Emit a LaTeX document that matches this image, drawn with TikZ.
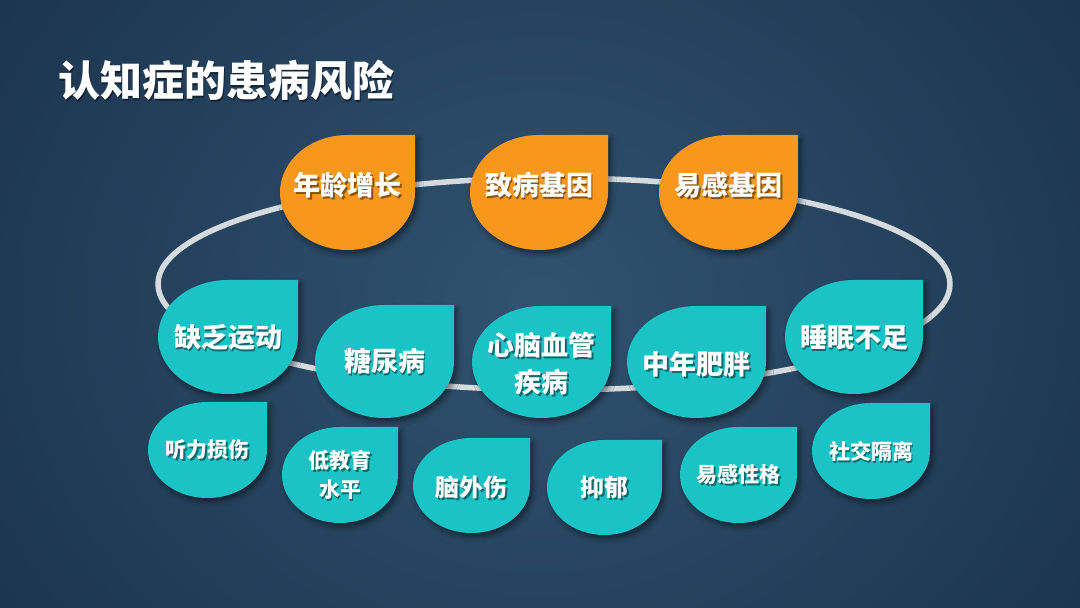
\documentclass[tikz,border=0pt]{standalone}
\usepackage{fontspec}
\newfontfamily\cjk{Noto Sans CJK SC}
\usetikzlibrary{shadows.blur}
\definecolor{bgdark}{HTML}{1C3550}
\definecolor{bglight}{HTML}{30536F}
\definecolor{ringc}{HTML}{D5DADF}
\definecolor{orangeleaf}{HTML}{F7981D}
\definecolor{tealleaf}{HTML}{1AC3C5}
\tikzset{
  leafshadow/.style={blur shadow={shadow xshift=3pt,shadow yshift=-4pt,shadow blur radius=5pt,shadow opacity=45}},
  ringline/.style={draw=ringc,line width=5.5pt},
  txt/.style={text=white,inner sep=0pt,align=center},
  txtshadow/.style={text=black,opacity=0.45,inner sep=0pt,align=center},
  fbig/.style={font=\cjk\bfseries\fontsize{27}{37}\selectfont},
  fmid/.style={font=\cjk\bfseries\fontsize{24}{30}\selectfont},
  fsmall/.style={font=\cjk\bfseries\fontsize{21}{29}\selectfont},
  ftitle/.style={font=\cjk\bfseries\fontsize{42}{50}\selectfont},
}
% #1 name, #2 left x, #3 top y (pixels from top), #4 width, #5 height,
% #6 fill colour, #7 text style, #8 text offset downward, #9 text
\newcommand\leaf[9]{%
  \fill[#6,leafshadow] (#2+#4,608-#3) -- (#2+#4,608-#3-#5/2)
    arc[start angle=0,end angle=-270,x radius={#4/2*1pt},y radius={#5/2*1pt}] -- cycle;
  \node[txtshadow,#7] at (#2+#4/2+1.5,608-#3-#5/2-#8-2) {#9};
  \node[txt,#7] (#1) at (#2+#4/2,608-#3-#5/2-#8) {#9};
}
\begin{document}
\begin{tikzpicture}[x=1pt,y=1pt]
\useasboundingbox (0,0) rectangle (1080,608);
\fill[bgdark] (0,0) rectangle (1080,608);
\shade[inner color=bglight,outer color=bgdark] (-100,-250) rectangle (1180,858);
% title
\node[txtshadow,ftitle,anchor=west] at (59.5,526) {认知症的患病风险};
\node[txt,ftitle,anchor=west] (title) at (58,528) {认知症的患病风险};
% ring
\draw[ringline] (554,608-284) ellipse[x radius=396pt,y radius=106pt];
% orange
\leaf{age}{280}{135}{135}{115}{orangeleaf}{fbig}{-7}{年龄增长}
\leaf{gene}{470}{135}{138}{115}{orangeleaf}{fbig}{-7}{致病基因}
\leaf{sus}{659}{135}{139}{115}{orangeleaf}{fbig}{-7}{易感基因}
% teal row 1
\leaf{exer}{158}{280}{140}{114}{tealleaf}{fbig}{0}{缺乏运动}
\leaf{diab}{315}{305}{139}{113}{tealleaf}{fbig}{0}{糖尿病}
\leaf{cvd}{472}{306}{139}{112}{tealleaf}{fbig}{2}{心脑血管\\疾病}
\leaf{obes}{627}{306}{139}{112}{tealleaf}{fbig}{2}{中年肥胖}
\leaf{sleep}{785}{280}{138}{114}{tealleaf}{fbig}{0}{睡眠不足}
% teal row 2
\leaf{hear}{148}{402}{119}{96}{tealleaf}{fsmall}{0}{听力损伤}
\leaf{edu}{282}{427}{116}{96}{tealleaf}{fsmall}{0}{低教育\\水平}
\leaf{tbi}{413}{438}{117}{95}{tealleaf}{fmid}{2}{脑外伤}
\leaf{depr}{547}{440}{115}{95}{tealleaf}{fmid}{0}{抑郁}
\leaf{pers}{680}{427}{117}{96}{tealleaf}{fsmall}{0}{易感性格}
\leaf{soc}{812}{403}{118}{96}{tealleaf}{fsmall}{0}{社交隔离}
\end{tikzpicture}
\end{document}
